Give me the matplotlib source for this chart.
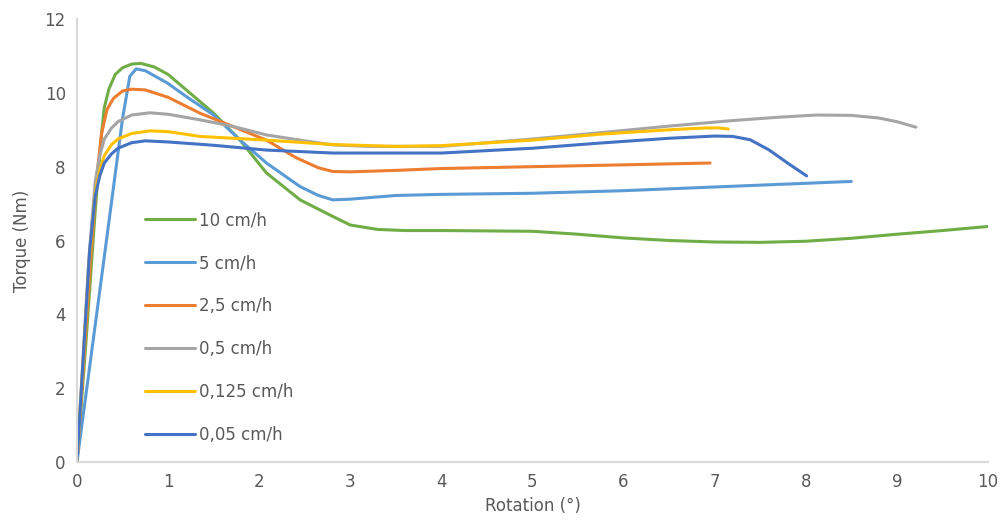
import matplotlib
matplotlib.use("Agg")
from matplotlib import pyplot as plt

# 10 cm/h
x_10 = [0, 0.1, 0.2, 0.27, 0.3, 0.35, 0.42, 0.5, 0.6, 0.7, 0.85, 1.0, 1.2, 1.5, 1.79, 2.08, 2.45, 2.81, 3.0, 3.3, 3.6, 4, 5, 5.5, 6, 6.5, 7, 7.5, 8, 8.5, 9, 9.5, 10]
y_10 = [0, 3.3, 6.8, 8.9, 9.6, 10.1, 10.5, 10.68, 10.78, 10.8, 10.7, 10.5, 10.08, 9.45, 8.72, 7.83, 7.1, 6.65, 6.42, 6.3, 6.27, 6.27, 6.25, 6.17, 6.07, 6.0, 5.96, 5.95, 5.98, 6.06, 6.17, 6.27, 6.38]
# 5 cm/h
x_5 = [0, 0.31, 0.5, 0.58, 0.65, 0.75, 0.99, 1.2, 1.5, 1.79, 2.08, 2.45, 2.65, 2.81, 3.0, 3.5, 4, 5, 6, 7, 8, 8.5]
y_5 = [0, 5.75, 9.3, 10.45, 10.65, 10.6, 10.27, 9.9, 9.4, 8.72, 8.1, 7.46, 7.22, 7.1, 7.12, 7.22, 7.25, 7.28, 7.35, 7.45, 7.55, 7.6]
# 2,5 cm/h
x_25 = [0, 0.15, 0.22, 0.27, 0.33, 0.4, 0.5, 0.6, 0.75, 1.0, 1.35, 1.7, 2.08, 2.4, 2.65, 2.81, 3.0, 3.5, 4, 5, 6, 6.95]
y_25 = [0, 5.5, 7.8, 8.9, 9.55, 9.85, 10.05, 10.1, 10.08, 9.88, 9.45, 9.1, 8.72, 8.25, 7.97, 7.87, 7.86, 7.9, 7.95, 8.0, 8.05, 8.1]
# 0,5 cm/h
x_05 = [0, 0.13, 0.2, 0.25, 0.3, 0.38, 0.45, 0.6, 0.8, 1.0, 1.35, 1.7, 2.08, 2.5, 2.81, 3.2, 4, 5, 5.74, 6.5, 7.2, 7.7, 8.12, 8.5, 8.8, 9.0, 9.21]
y_05 = [0, 5.5, 7.6, 8.3, 8.75, 9.05, 9.22, 9.4, 9.46, 9.42, 9.27, 9.1, 8.86, 8.7, 8.59, 8.55, 8.55, 8.75, 8.92, 9.1, 9.25, 9.34, 9.4, 9.39, 9.32, 9.22, 9.07]
# 0,125 cm/h
x_0125 = [0, 0.13, 0.2, 0.25, 0.3, 0.38, 0.45, 0.6, 0.8, 1.0, 1.35, 2.08, 2.81, 3.5, 4, 5, 5.74, 6.5, 6.9, 7.05, 7.15]
y_0125 = [0, 5.3, 7.3, 7.9, 8.3, 8.6, 8.75, 8.9, 8.97, 8.95, 8.82, 8.72, 8.6, 8.55, 8.57, 8.72, 8.88, 9.0, 9.05, 9.05, 9.02]
# 0,05 cm/h
x_005 = [0, 0.14, 0.2, 0.25, 0.3, 0.38, 0.45, 0.6, 0.75, 1.0, 1.5, 2.08, 2.81, 3.5, 4, 5, 5.74, 6.5, 7.0, 7.2, 7.39, 7.6, 7.8, 8.01]
y_005 = [0, 5.75, 7.2, 7.75, 8.1, 8.35, 8.5, 8.65, 8.7, 8.67, 8.58, 8.45, 8.37, 8.37, 8.37, 8.5, 8.64, 8.77, 8.83, 8.82, 8.73, 8.45, 8.1, 7.75]

series = [
    (x_10, y_10, "10 cm/h", "#70AD47"),
    (x_5, y_5, "5 cm/h", "#5B9BD5"),
    (x_25, y_25, "2,5 cm/h", "#ED7D31"),
    (x_05, y_05, "0,5 cm/h", "#A5A5A5"),
    (x_0125, y_0125, "0,125 cm/h", "#FFC000"),
    (x_005, y_005, "0,05 cm/h", "#4472C4"),
]

text_col = "#595959"
fig = plt.figure(figsize=(10.05, 5.29), dpi=100)
ax = fig.add_axes([0.0766, 0.1267, 0.9064, 0.8373])

for xs, ys, lab, col in series:
    ax.plot(xs, ys, color=col, lw=2.2, label=lab, solid_capstyle="round", solid_joinstyle="round")

ax.set_xlim(0, 10)
ax.set_ylim(0, 12)
ax.set_xticks(range(0, 11))
ax.set_yticks(range(0, 13, 2))
for s in ["top", "right"]:
    ax.spines[s].set_visible(False)
for s in ["left", "bottom"]:
    ax.spines[s].set_color("#d9d9d9")
    ax.spines[s].set_linewidth(1.5)
ax.tick_params(length=0, labelsize=12, colors=text_col, pad=8)
ax.set_xlabel("Rotation (°)", fontsize=12, color=text_col, labelpad=4)
ax.set_ylabel("Torque (Nm)", fontsize=12, color=text_col, labelpad=10)

ax.legend(loc="upper left", bbox_to_anchor=(0.058, 0.60), frameon=False,
          fontsize=12, labelcolor=text_col, handlelength=3.0, handletextpad=0.25,
          labelspacing=1.5)

fig.savefig("out.png", dpi=100)
